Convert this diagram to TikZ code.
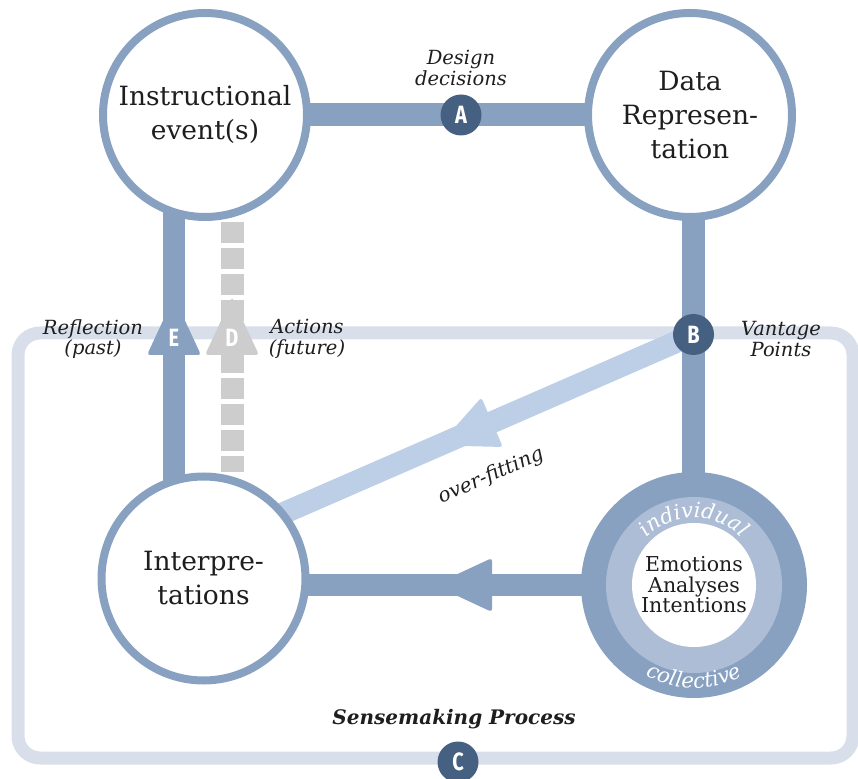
\documentclass[tikz,border=0pt]{standalone}
\usepackage{fontspec}
\setmainfont{DejaVu Serif}
\newfontfamily\lettfont{Fira Sans}
\usepackage{graphicx}
\usetikzlibrary{calc,decorations.text}
\definecolor{mainblue}{HTML}{88A1C1}
\definecolor{darkblue}{HTML}{466082}
\definecolor{boxgray}{HTML}{D8DFEA}
\definecolor{ofblue}{HTML}{BDCFE6}
\definecolor{dgray}{HTML}{CDCDCD}
\definecolor{ringlight}{HTML}{ADBDD6}
\definecolor{txt}{HTML}{1E1E1E}
\pgfdeclarelayer{l1}\pgfdeclarelayer{l2}
\pgfsetlayers{l1,l2,main}
\newcommand\myhead[3]{%
  \path (#2) coordinate (hb);
  \fill[#1, rounded corners=3pt] ($(hb)!27pt!90:(#3)$) -- ($(hb)!58pt!(#3)$) -- ($(hb)!27pt!-90:(#3)$) -- cycle;}
\begin{document}
\begin{tikzpicture}[x=1pt,y=1pt,
  bigc/.style={circle, draw=mainblue, line width=8pt, fill=white, minimum size=204pt, inner sep=0pt, align=center, font=\fontsize{26.5}{34}\selectfont, text=txt},
  lab/.style={circle, fill=darkblue, minimum size=41pt, inner sep=0pt, text=white, font=\lettfont\bfseries\fontsize{25}{25}\selectfont},
  lett/.style={text=white, inner sep=0pt, font=\lettfont\bfseries\fontsize{25}{25}\selectfont},
  itl/.style={align=center, font=\itshape\fontsize{19.5}{20.5}\selectfont, text=txt},
  conn/.style={mainblue, line width=23pt},
  curvtext/.style={decorate, decoration={text along path, text align=center, text color=white, text={|\itshape\fontsize{21}{21}\selectfont|#1}}},
]
\useasboundingbox (0,0) rectangle (858,778);

% main circles
\node[bigc] (c1) at (205,663) {Instructional\\event(s)};
\node[bigc] (c2) at (690,663) {Data\\Represen-\\tation};
\node[bigc] (c3) at (203.5,199.5) {Interpre-\\tations};
\node[circle, fill=mainblue, minimum size=226pt, inner sep=0pt] (c4) at (694,193) {};
\fill[ringlight] (c4.center) circle (88pt);
\fill[white] (c4.center) circle (62pt);
\node[align=center, font=\fontsize{20.5}{20.5}\selectfont, text=txt] (emo) at (c4.center) {Emotions\\Analyses\\Intentions};
\path[curvtext=individual] ($(c4.center)+(165:67pt)$) arc[start angle=165, end angle=15, radius=67pt];
\path[curvtext=collective] ($(c4.center)+(195:103pt)$) arc[start angle=195, end angle=345, radius=103pt];

% label circles
\node[lab] (A) at (461,663) {\scalebox{0.8}[1]{A}};
\node[lab] (B) at (693.5,443.5) {\scalebox{0.8}[1]{B}};
\node[lab] (C) at (458,16) {\scalebox{0.8}[1]{C}};

% frame
\begin{pgfonlayer}{l1}
\draw[boxgray, line width=13pt, rounded corners=22pt] (18,20) rectangle (853,445);
\end{pgfonlayer}

% connectors
\begin{pgfonlayer}{l2}
\coordinate (ofend) at ($(c3.center)+(0,30.5)$);
\draw[ofblue, line width=22pt] (B.center) -- (ofend);
\myhead{ofblue}{$(B.center)!219.7pt!(ofend)$}{ofend}
\draw[conn] (c1.center) -- (c2.center);
\draw[conn] (B |- c2.center) -- (B |- c4.center);
\draw[conn, line width=22pt] (c4.center) -- (c4.center -| c3.center);
\myhead{mainblue}{492,193}{300,193}
\draw[conn, line width=22pt] ($(c1.center)+(-31,0)$) -- ($(c3.center)+(-29.5,0)$);
\myhead{mainblue}{174,423}{174,700}
\draw[dgray, line width=23pt, dash pattern=on 21pt off 5pt, dash phase=21pt] ($(c1.center)+(27,-102)$) -- ($(c3.center)+(28.5,106.5)$);
\myhead{dgray}{232,423}{232,700}
\end{pgfonlayer}

\node[lett] (E) at (174,440) {\scalebox{0.8}[1]{E}};
\node[lett] (D) at (232,440) {\scalebox{0.8}[1]{D}};

% text labels
\node[itl] (refl) at (93,439) {Reflection\\(past)};
\node[itl] (act) at (307,439) {Actions\\(future)};
\node[itl] (vant) at (781,439) {Vantage\\Points};
\node[itl] (des) at (461,710) {Design\\decisions};
\node[font=\bfseries\itshape\fontsize{20}{24}\selectfont, text=txt, anchor=base] (sense) at (454,53) {Sensemaking Process};
\node[font=\itshape\fontsize{20}{20}\selectfont, text=txt, rotate=23.6] (over) at (491,302) {over-fitting};
\end{tikzpicture}
\end{document}
